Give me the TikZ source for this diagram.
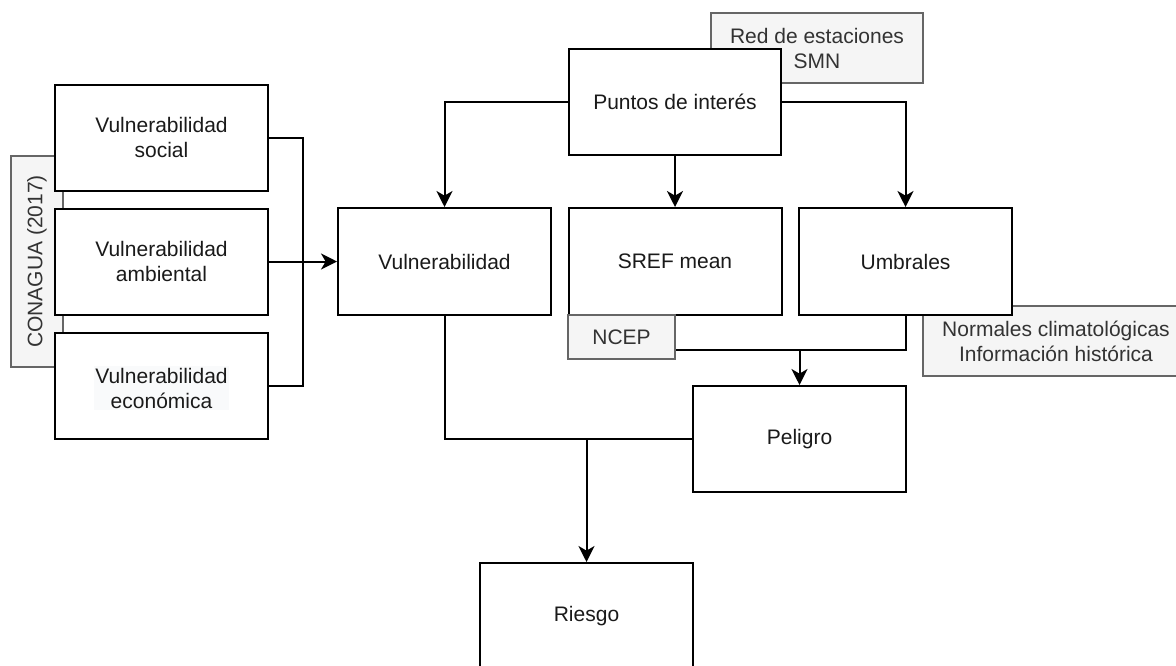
\documentclass[tikz,border=0pt]{standalone}
\usepackage{fontspec}
\setmainfont{Liberation Sans}
\usetikzlibrary{arrows.meta}
\definecolor{grayfill}{HTML}{F5F5F5}
\definecolor{graydraw}{HTML}{666666}
\definecolor{graytext}{HTML}{333333}
\definecolor{hlfill}{HTML}{F9FAFB}
\definecolor{boxtext}{HTML}{1A1A1A}
\tikzset{
  lbl/.style={font=\fontsize{15.75}{18.75}\selectfont, align=center},
  box/.style={lbl, draw=black, fill=white, line width=1.5pt, text=boxtext,
    minimum width=159.75pt, minimum height=79.5pt, inner sep=0pt},
  graybox/.style={lbl, draw=graydraw, fill=grayfill, line width=1.5pt, text=graytext, inner sep=0pt},
  hltext/.style={lbl, fill=hlfill, text=boxtext, inner sep=1pt},
  wire/.style={draw=black, line width=1.5pt},
  arr/.style={wire, -{Stealth[length=12pt, width=12pt, inset=3.5pt]}},
}
\begin{document}
\begin{tikzpicture}[x=0.75pt, y=-0.75pt]
\useasboundingbox (0,0) rectangle (1176,665);
\clip (0,0) rectangle (1176,665);
\fill[white] (0,0) rectangle (1176,665);

% coordinates of junctions
\coordinate (jv) at (303,261.5);
\coordinate (jp) at (799.5,350);
\coordinate (jr) at (586.5,439);

% gray side boxes
\node[graybox, minimum width=39pt, minimum height=158.25pt] (con) at (37,261.5) {};
\node[lbl, text=graytext, rotate=90] (contxt) at (37,261.5) {CONAGUA (2017)};
\node[graybox, minimum width=159pt, minimum height=52.5pt] (red) at (817,48) {Red de estaciones\\SMN};
\node[graybox, minimum width=199.5pt, minimum height=52.5pt] (nor) at (1056,341) {Normales climatológicas\\Información histórica};

% main boxes
\node[box] (soc) at (161.5,137.5) {Vulnerabilidad\\social};
\node[box] (amb) at (161.5,261.5) {Vulnerabilidad\\ambiental};
\node[box] (eco) at (161.5,385.5) {};
\node[hltext] (ecotxt) at (161.5,388) {Vulnerabilidad\\económica};
\node[box, minimum width=159pt] (pun) at (675,102) {Puntos de interés};
\node[box, minimum height=80.25pt] (vul) at (444.5,261.5) {Vulnerabilidad};
\node[box, minimum height=80.25pt] (sref) at (675,261.5) {SREF mean};
\node[box, minimum height=80.25pt] (umb) at (905.5,261.5) {Umbrales};
\node[box] (pel) at (799.5,439) {Peligro};
\node[box] (rie) at (586.5,616) {Riesgo};

% connectors
\draw[arr] (pun.west) -| (vul.north);
\draw[arr] (pun.south) -- (sref.north);
\draw[arr] (pun.east) -| (umb.north);
\draw[wire] (soc.east) -| (jv);
\draw[wire] (eco.east) -| (jv);
\draw[arr] (amb.east) -- (vul.west);
\draw[wire] (sref.south) |- (jp);
\draw[wire] (umb.south) |- (jp);
\draw[arr] (jp) -- (pel.north);
\draw[wire] (vul.south) |- (jr);
\draw[wire] (pel.west) -- (jr);
\draw[arr] (jr) -- (rie.north);

% NCEP box on top of the connector
\node[graybox, minimum width=80.25pt, minimum height=33pt] (ncep) at (621.5,337) {NCEP};
% redraw Umbrales over the gray box corner
\node[box, minimum height=80.25pt] at (905.5,261.5) {Umbrales};
\end{tikzpicture}
\end{document}
